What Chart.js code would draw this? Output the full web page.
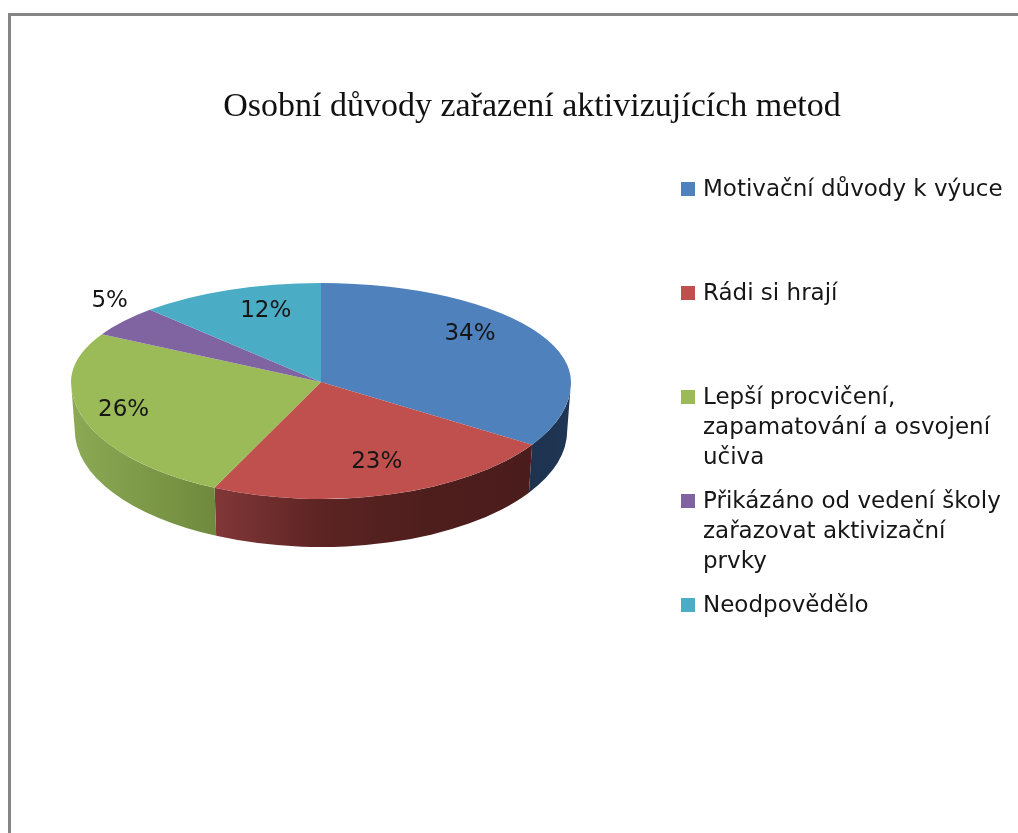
<!DOCTYPE html>
<html lang="cs">
<head>
<meta charset="utf-8">
<title>Osobní důvody zařazení aktivizujících metod</title>
<script src="https://cdn.jsdelivr.net/npm/chart.js@4"></script>
<style>
  html, body { margin:0; padding:0; background:#fff; overflow:hidden; }
  #wrap { position:relative; width:1018px; height:833px; overflow:hidden; }
  #frame { position:absolute; left:8px; top:13px; width:1100px; height:900px; border:3px solid #858585; }
  #chart { position:absolute; left:0; top:0; filter:blur(.5px); }
</style>
</head>
<body>
<div id="wrap">
  <div id="frame"></div>
  <canvas id="chart" width="1018" height="833"></canvas>
</div>
<script>
const chartTitle = "Osobní důvody zařazení aktivizujících metod";
const categories = [
  ["Motivační důvody k výuce"],
  ["Rádi si hrají"],
  ["Lepší procvičení,", "zapamatování a osvojení", "učiva"],
  ["Přikázáno od vedení školy", "zařazovat aktivizační", "prvky"],
  ["Neodpovědělo"]
];
const values = [34, 23, 26, 5, 12];
const sliceColors = ["#4f81bd", "#c0504d", "#9bbb59", "#8064a2", "#4bacc6"];
// side wall shading, from the slice start angle to its end angle
const wallColors = [
  ["#1f3654", "#1d3350"],
  ["#4a1c1b", "#4e1e1d", "#5c2423", "#823738"],
  ["#6f8a3d", "#7d9a48", "#8ca956"],
  ["#5f4a79", "#5f4a79"],
  ["#38809a", "#38809a"]
];

/* ====== 3D look ====== */
const PIE = { cx: 321, cy: 382, r: 250, ryBack: 99, ryFront: 117, depth: 48 };
// where each % label sits, as a part of the radius on x and y
const labelReach = [[0.68, 1.0], [0.8, 0.71], [0.83, 0.77], [1.07, 1.33], [0.6, 0.77]];
const legendBaselines = [196, 300, 404, 508, 612];

function drawWalls(ctx, arcs) {
  const { cx, cy, r, ryFront, depth } = PIE;
  arcs.forEach((arc, i) => {
    const a = Math.max(arc.startAngle, 0);
    const b = Math.min(arc.endAngle, Math.PI);
    if (b <= a) return;
    const x0 = cx + r * Math.cos(a), x1 = cx + r * Math.cos(b);
    const g = ctx.createLinearGradient(x0, 0, x1, 0);
    wallColors[i].forEach((c, k, all) => g.addColorStop(k / (all.length - 1), c));
    ctx.beginPath();
    ctx.ellipse(cx, cy, r, ryFront, 0, a, b);
    ctx.ellipse(cx, cy + depth, r * 0.985, ryFront, 0, b, a, true);
    ctx.closePath();
    ctx.fillStyle = g;
    ctx.fill();
  });
}

function drawTopHalf(chart, meta, arc0, top) {
  const { ctx } = chart;
  const { cx, cy, r, ryBack, ryFront } = PIE;
  ctx.save();
  ctx.beginPath();
  if (top) ctx.rect(0, 0, chart.width, cy + 0.5);
  else ctx.rect(0, cy, chart.width, chart.height - cy);
  ctx.clip();
  ctx.translate(cx, cy);
  ctx.scale(1, (top ? ryBack : ryFront) / r);
  ctx.translate(-arc0.x, -arc0.y);
  meta.controller.draw();
  ctx.restore();
}

const pie3d = {
  id: "pie3d",
  beforeDatasetsDraw(chart) {
    const meta = chart.getDatasetMeta(0);
    drawWalls(chart.ctx, meta.data);
    drawTopHalf(chart, meta, meta.data[0], true);
    drawTopHalf(chart, meta, meta.data[0], false);
    return false;
  },
  afterDraw(chart) {
    const { ctx } = chart;
    const { cx, cy, r, ryBack, ryFront } = PIE;
    ctx.save();
    ctx.textBaseline = "middle";
    ctx.textAlign = "center";
    ctx.fillStyle = "#161616";
    ctx.font = "23px 'DejaVu Sans'";
    chart.getDatasetMeta(0).data.forEach((arc, i) => {
      const mid = (arc.startAngle + arc.endAngle) / 2;
      const sin = Math.sin(mid);
      const x = cx + Math.cos(mid) * r * labelReach[i][0];
      const y = cy + sin * (sin < 0 ? ryBack : ryFront) * labelReach[i][1];
      ctx.fillText(values[i] + "%", x, y);
    });

    // legend: items are not evenly spaced, so it is drawn here
    ctx.textAlign = "left";
    ctx.textBaseline = "alphabetic";
    categories.forEach((lines, i) => {
      const base = legendBaselines[i];
      ctx.fillStyle = sliceColors[i];
      ctx.fillRect(681, base - 14, 14, 14);
      ctx.fillStyle = "#161616";
      lines.forEach((line, k) => ctx.fillText(line, 703, base + k * 30));
    });
    ctx.restore();
  }
};

new Chart(document.getElementById("chart"), {
  type: "pie",
  data: {
    labels: categories,
    datasets: [{ data: values, backgroundColor: sliceColors, borderWidth: 0, radius: PIE.r }]
  },
  options: {
    responsive: false,
    animation: false,
    events: [],
    layout: { padding: { left: 46 } },
    plugins: {
      legend: { display: false },
      tooltip: { enabled: false },
      title: {
        display: true,
        text: chartTitle,
        color: "#111",
        font: { family: "'Liberation Serif'", size: 34, weight: "normal" },
        padding: { top: 87, bottom: 10 }
      }
    }
  },
  plugins: [pie3d]
});
</script>
</body>
</html>
